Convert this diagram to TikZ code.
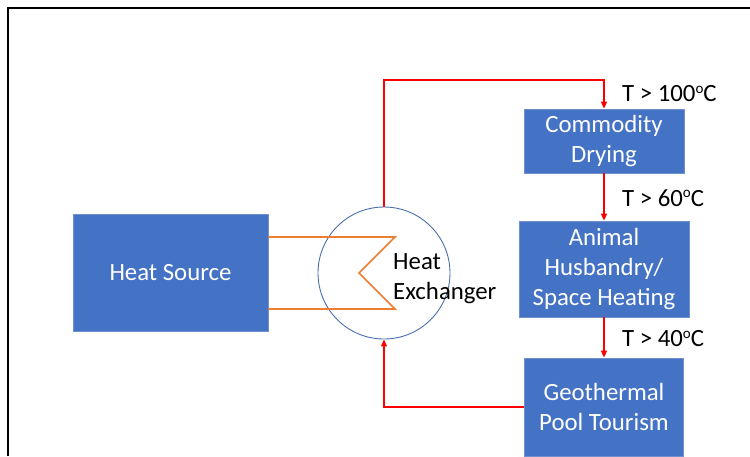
\documentclass[tikz,border=0pt]{standalone}
\usepackage{fontspec}
\setmainfont{Carlito}
\usetikzlibrary{arrows.meta,positioning}
\definecolor{boxblue}{HTML}{4472C4}
\definecolor{boxedge}{HTML}{6F8FCF}
\definecolor{coilorange}{HTML}{ED7D31}
\definecolor{hxblue}{HTML}{4A6FAF}
\newcommand{\degsup}{{\fontsize{15}{15}\selectfont\raisebox{8.5pt}{o}}}

\begin{document}
\begin{tikzpicture}[x=1pt, y=-1pt, font=\fontsize{24.8}{30}\selectfont, >={Triangle[length=7pt,width=6pt]}]
   \clip (0,0) rectangle (750,456);
   \draw[line width=2pt] (8,456) -- (8,8) -- (750,8);
   \begin{scope}[every node/.style={rectangle,draw=boxedge,fill=boxblue,text=white,align=center,inner sep=0pt,line width=0.8pt}]
    \node (src) [minimum width=195pt, minimum height=117pt] at (170.5,272.5) {Heat Source};
    \node (dry) [minimum width=160pt, minimum height=64pt] at (604,141) {Commodity\\Drying};
    \node (anim) [minimum width=170pt, minimum height=96pt] at (604,269) {Animal\\Husbandry/\\Space Heating};
    \node (pool) [minimum width=159pt, minimum height=98pt] at (604,407) {Geothermal\\Pool Tourism};
   \end{scope}
   \node (hx) [circle, draw=hxblue, line width=0.9pt, minimum size=132pt, inner sep=0pt] at (384,273) {};
   \draw[coilorange, line width=1.6pt] (src.east |- 0,237) -- (395,237) -- (359,273) -- (395,309) -- (src.east |- 0,309);
   \node (hxlabel) [anchor=west, align=left, inner sep=0pt] at (393,279) {Heat\\Exchanger};
   \begin{scope}[every node/.style={anchor=west,inner sep=0pt}]
    \node (t100) at (622,94) {T > 100\degsup C};
    \node (t60) at (622,198) {T > 60\degsup C};
    \node (t40) at (622,339) {T > 40\degsup C};
   \end{scope}
   \begin{scope}[->, red, line width=1.3pt]
    \draw (hx.north) -- (hx.north |- 0,80) -- (dry.north |- 0,80) -- (dry.north);
    \draw (dry.south) -- (anim.north);
    \draw (anim.south) -- (pool.north);
    \draw (pool.west) -- (hx.south |- pool.west) -- (hx.south);
   \end{scope}
\end{tikzpicture}
\end{document}
